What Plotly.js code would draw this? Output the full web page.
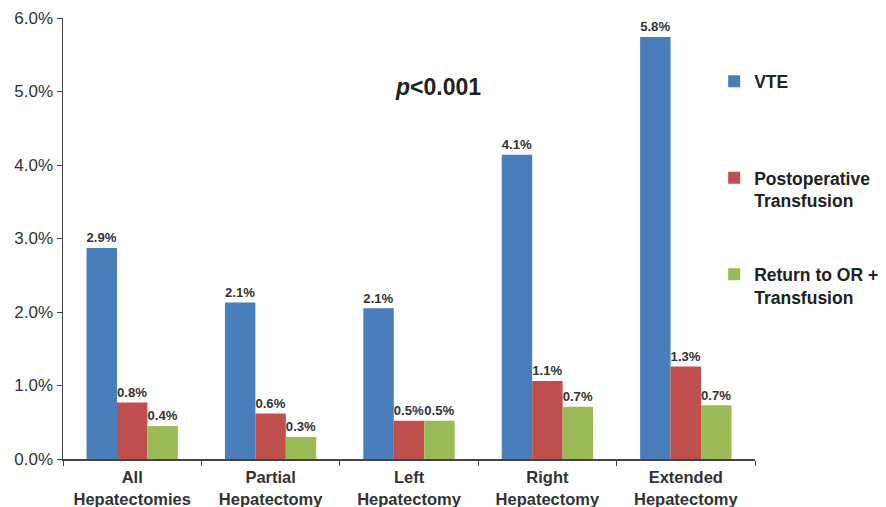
<!DOCTYPE html>
<html>
<head>
<meta charset="utf-8">
<script src="https://cdn.plot.ly/plotly-3.0.1.min.js"></script>
<style>html,body{margin:0;padding:0;background:#fff;}#chart{width:886px;height:507px;}</style>
</head>
<body>
<div id="chart"></div>
<script>
const categories = ["All<br>Hepatectomies", "Partial<br>Hepatectomy", "Left<br>Hepatectomy", "Right<br>Hepatectomy", "Extended<br>Hepatectomy"];
const seriesNames = ["VTE<br>&nbsp;", "Postoperative<br>Transfusion", "Return to OR +<br>Transfusion"];
const vte = [2.87, 2.13, 2.05, 4.14, 5.74];
const postopTransfusion = [0.77, 0.62, 0.52, 1.06, 1.26];
const returnOR = [0.45, 0.30, 0.52, 0.71, 0.73];
const vteLabels = ["2.9%", "2.1%", "2.1%", "4.1%", "5.8%"];
const postopLabels = ["0.8%", "0.6%", "0.5%", "1.1%", "1.3%"];
const returnLabels = ["0.4%", "0.3%", "0.5%", "0.7%", "0.7%"];
const yTicks = [0, 1, 2, 3, 4, 5, 6];
const yTickLabels = ["0.0%", "1.0%", "2.0%", "3.0%", "4.0%", "5.0%", "6.0%"];

const colors = ["#4a7dbb", "#c0504d", "#9bbb59"];
const values = [vte, postopTransfusion, returnOR];
const labels = [vteLabels, postopLabels, returnLabels];

const traces = values.map((v, i) => ({
  type: "bar",
  x: categories,
  y: v,
  name: seriesNames[i],
  legendgroup: "g" + i,
  marker: {color: colors[i]},
  text: labels[i],
  textposition: "outside",
  cliponaxis: false,
  textfont: {family: "Liberation Sans, Arial, sans-serif", size: 14, color: "#333", weight: "bold"},
  hoverinfo: "skip"
}));

const layout = {
  width: 886, height: 507,
  margin: {l: 63, r: 131, t: 18, b: 48, autoexpand: false},
  paper_bgcolor: "#fff", plot_bgcolor: "#fff",
  barmode: "group", bargap: 0.34, bargroupgap: 0,
  font: {family: "Liberation Sans, Arial, sans-serif", color: "#333"},
  xaxis: {
    showline: true, linecolor: "#444", linewidth: 1.5,
    ticks: "outside", tickson: "boundaries", ticklen: 5, tickcolor: "#444",
    tickfont: {size: 16.5, weight: "bold", color: "#333"},
    ticklabelstandoff: 3,
    showgrid: false, zeroline: false
  },
  yaxis: {
    range: [0, 6], tickvals: yTicks, ticktext: yTickLabels,
    showline: true, linecolor: "#444", linewidth: 1.5,
    ticks: "outside", ticklen: 5, tickcolor: "#444",
    tickfont: {size: 17, color: "#333"},
    showgrid: false, zeroline: false
  },
  showlegend: true,
  legend: {
    x: 0.941, y: 0.897, xanchor: "left", yanchor: "top",
    font: {size: 17.5, weight: "bold", color: "#222"},
    tracegroupgap: 48, bgcolor: "rgba(0,0,0,0)", itemwidth: 30, valign: "top"
  },
  annotations: [{
    xref: "paper", yref: "paper", x: 0.542, y: 0.843, xanchor: "center", yanchor: "middle",
    text: "<b><i>p</i>&lt;0.001</b>", showarrow: false,
    font: {size: 23, color: "#222"}
  }]
};

Plotly.newPlot("chart", traces, layout, {displayModeBar: false, staticPlot: true});
</script>
</body>
</html>
